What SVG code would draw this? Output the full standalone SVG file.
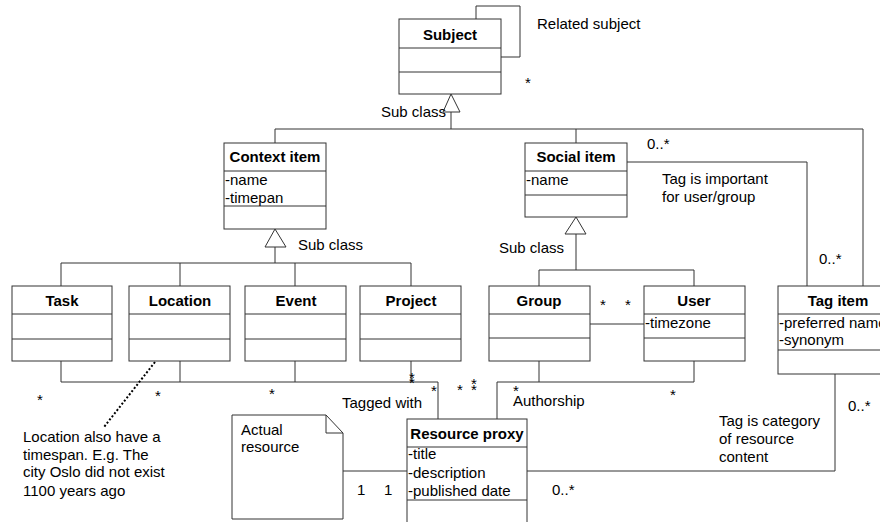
<svg xmlns="http://www.w3.org/2000/svg" width="880" height="522" viewBox="0 0 880 522">
<style>
text{font-family:"Liberation Sans",Arial,sans-serif;font-size:15px;fill:#000}
.h{font-weight:bold;text-anchor:middle}
.box{fill:#fff;stroke:#333;stroke-width:1}
.ln{fill:none;stroke:#333;stroke-width:1}
.tri{fill:#fff;stroke:#333;stroke-width:1}
.dot{fill:none;stroke:#000;stroke-width:2;stroke-dasharray:2 2}
</style>
<rect width="880" height="522" fill="#fff"/>
<g id="connectors">
<polyline class="ln" points="476,19 476,6 520,6 520,57 501,57"/>
<polyline class="ln" points="451,112 451,129"/>
<polyline class="ln" points="275,143 275,129 863,129 863,286"/>
<line class="ln" x1="576" y1="129" x2="576" y2="143"/>
<polygon class="tri" points="451,94 443,112 460,112"/>
<polyline class="ln" points="275,247 275,263"/>
<polyline class="ln" points="61,286 61,263 411,263 411,286"/>
<line class="ln" x1="180" y1="263" x2="180" y2="286"/>
<line class="ln" x1="295" y1="263" x2="295" y2="286"/>
<polygon class="tri" points="275,229 265,247 286,247"/>
<polyline class="ln" points="576,234 576,270"/>
<polyline class="ln" points="539,286 539,270 694,270 694,286"/>
<polygon class="tri" points="576,217 565,234 586,234"/>
<polyline class="ln" points="627,162 807,162 807,286"/>
<line class="ln" x1="590" y1="324" x2="645" y2="324"/>
<polyline class="ln" points="61,361 61,382 438,382 438,419"/>
<line class="ln" x1="180" y1="361" x2="180" y2="382"/>
<line class="ln" x1="295" y1="361" x2="295" y2="382"/>
<line class="ln" x1="411" y1="361" x2="411" y2="382"/>
<polyline class="ln" points="539,361 539,382 497,382 497,419"/>
<polyline class="ln" points="694,361 694,382 539,382"/>
<polyline class="ln" points="835,374 835,471 527,471"/>
<line class="ln" x1="343" y1="471" x2="407" y2="471"/>
<line class="dot" x1="155" y1="362" x2="104" y2="427"/>
</g>
<g id="subject">
<rect class="box" x="399" y="19" width="102" height="75"/>
<line class="ln" x1="399" y1="48" x2="501" y2="48"/>
<line class="ln" x1="399" y1="72" x2="501" y2="72"/>
<text class="h" x="450" y="40">Subject</text>
</g>
<g id="context-item">
<rect class="box" x="224" y="143" width="102" height="86"/>
<line class="ln" x1="224" y1="171" x2="326" y2="171"/>
<line class="ln" x1="224" y1="206" x2="326" y2="206"/>
<text class="h" x="275" y="162">Context item</text>
<text x="225" y="185">-name</text>
<text x="225" y="203">-timepan</text>
</g>
<g id="social-item">
<rect class="box" x="525" y="143" width="102" height="74"/>
<line class="ln" x1="525" y1="171" x2="627" y2="171"/>
<line class="ln" x1="525" y1="195" x2="627" y2="195"/>
<text class="h" x="576" y="162">Social item</text>
<text x="526" y="185">-name</text>
</g>
<g id="task">
<rect class="box" x="12" y="286" width="100" height="75"/>
<line class="ln" x1="12" y1="314" x2="112" y2="314"/>
<line class="ln" x1="12" y1="339" x2="112" y2="339"/>
<text class="h" x="62" y="306">Task</text>
</g>
<g id="location">
<rect class="box" x="129" y="286" width="101" height="75"/>
<line class="ln" x1="129" y1="314" x2="230" y2="314"/>
<line class="ln" x1="129" y1="339" x2="230" y2="339"/>
<text class="h" x="180" y="306">Location</text>
</g>
<g id="event">
<rect class="box" x="245" y="286" width="101" height="75"/>
<line class="ln" x1="245" y1="314" x2="346" y2="314"/>
<line class="ln" x1="245" y1="339" x2="346" y2="339"/>
<text class="h" x="296" y="306">Event</text>
</g>
<g id="project">
<rect class="box" x="360" y="286" width="101" height="75"/>
<line class="ln" x1="360" y1="314" x2="461" y2="314"/>
<line class="ln" x1="360" y1="339" x2="461" y2="339"/>
<text class="h" x="411" y="306">Project</text>
</g>
<g id="group">
<rect class="box" x="489" y="286" width="101" height="75"/>
<line class="ln" x1="489" y1="314" x2="590" y2="314"/>
<line class="ln" x1="489" y1="338" x2="590" y2="338"/>
<text class="h" x="539" y="306">Group</text>
</g>
<g id="user">
<rect class="box" x="644" y="286" width="101" height="75"/>
<line class="ln" x1="644" y1="314" x2="745" y2="314"/>
<line class="ln" x1="644" y1="338" x2="745" y2="338"/>
<text class="h" x="694" y="306">User</text>
<text x="645" y="328">-timezone</text>
</g>
<g id="tag-item">
<rect class="box" x="778" y="286" width="120" height="88"/>
<line class="ln" x1="778" y1="314" x2="898" y2="314"/>
<line class="ln" x1="778" y1="350" x2="898" y2="350"/>
<text class="h" x="838" y="306">Tag item</text>
<text x="779" y="328">-preferred name</text>
<text x="779" y="345">-synonym</text>
</g>
<g id="resource-proxy">
<rect class="box" x="407" y="419" width="120" height="130"/>
<line class="ln" x1="407" y1="447" x2="527" y2="447"/>
<line class="ln" x1="407" y1="500" x2="527" y2="500"/>
<text class="h" x="467" y="439">Resource proxy</text>
<text x="408" y="459">-title</text>
<text x="408" y="478">-description</text>
<text x="408" y="496">-published date</text>
</g>
<g id="actual-resource">
<polygon class="box" points="232,415 326,415 343,433 343,519 232,519"/>
<polyline class="ln" points="326,415 326,433 343,433"/>
<text x="241" y="435">Actual</text>
<text x="241" y="452">resource</text>
</g>
<g id="location-note">
<text x="23" y="442">Location also have a</text>
<text x="23" y="460">timespan. E.g. The</text>
<text x="23" y="477">city Oslo did not exist</text>
<text x="23" y="496">1100 years ago</text>
</g>
<g id="labels">
<text x="537" y="29">Related subject</text>
<text x="525" y="88">*</text>
<text x="381" y="117">Sub class</text>
<text x="647" y="149">0..*</text>
<text x="298" y="250">Sub class</text>
<text x="499" y="253">Sub class</text>
<text x="662" y="184">Tag is important</text>
<text x="662" y="202">for user/group</text>
<text x="819" y="264">0..*</text>
<text x="600" y="310">*</text>
<text x="625" y="310">*</text>
<text x="37" y="405">*</text>
<text x="155" y="401">*</text>
<text x="269" y="399">*</text>
<text x="409" y="383">*</text>
<text x="409" y="388">*</text>
<text x="431" y="396">*</text>
<text x="457" y="395">*</text>
<text x="471" y="389">*</text>
<text x="471" y="395">*</text>
<text x="513" y="396">*</text>
<text x="670" y="400">*</text>
<text x="342" y="408">Tagged with</text>
<text x="513" y="406">Authorship</text>
<text x="719" y="426">Tag is category</text>
<text x="719" y="444">of resource</text>
<text x="719" y="462">content</text>
<text x="848" y="411">0..*</text>
<text x="552" y="495">0..*</text>
<text x="357" y="495">1</text>
<text x="384" y="495">1</text>
</g>
</svg>
